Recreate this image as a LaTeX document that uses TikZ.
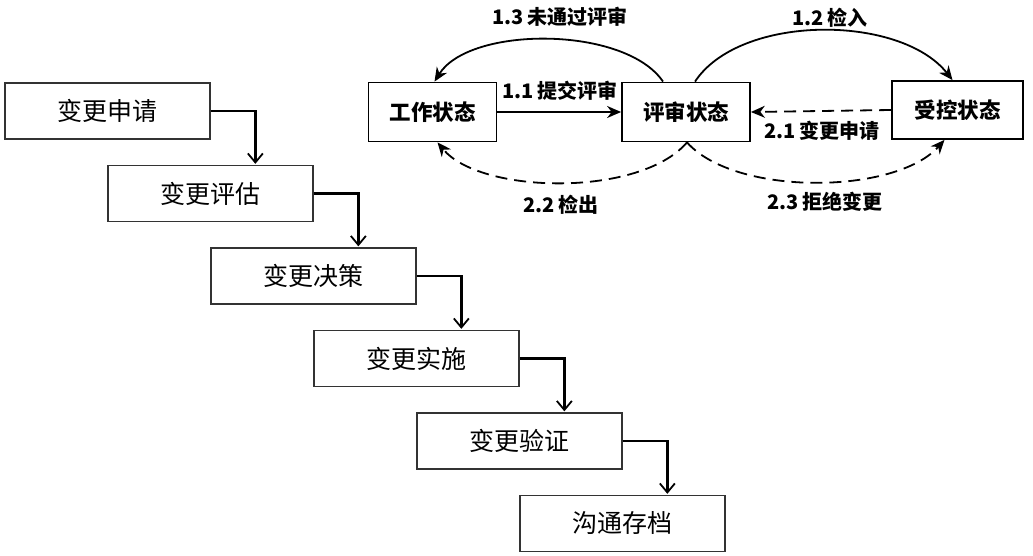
\documentclass[tikz,border=0pt]{standalone}
\usepackage{fontspec}
\setmainfont{Noto Sans CJK SC}
\usetikzlibrary{arrows.meta}
\begin{document}
\begin{tikzpicture}[x=1pt,y=-1pt,
  stairbox/.style={draw=black!80,line width=1.3pt,minimum width=205pt,minimum height=56pt,inner sep=0pt,font=\fontsize{25}{27}\selectfont},
  stairarrow/.style={line width=2.4pt,-{Straight Barb[length=9pt,width=15pt,line width=1.8pt]}},
  statebox/.style={draw=black,line width=1.8pt,minimum width=128pt,minimum height=59pt,inner sep=0pt,font=\fontsize{21.5}{23}\selectfont\bfseries},
  flow/.style={line width=1.8pt,-{Stealth[length=14pt,width=12pt]}},
  flowdash/.style={flow,dash pattern=on 12pt off 7pt},
  lbl/.style={font=\fontsize{20}{22}\selectfont\bfseries,inner sep=0pt}]
\useasboundingbox (0,0) rectangle (1033,556);
% staircase
\node[stairbox] (b1) at (107.5,111) {变更申请};
\node[stairbox] (b2) at (210.5,193.5) {变更评估};
\node[stairbox] (b3) at (313.5,276) {变更决策};
\node[stairbox] (b4) at (416.5,358.5) {变更实施};
\node[stairbox] (b5) at (519.5,441) {变更验证};
\node[stairbox] (b6) at (622.5,523.5) {沟通存档};
\draw[stairarrow] (b1.east) -| ([xshift=148pt,yshift=1pt]b2.north west);
\draw[stairarrow] (b2.east) -| ([xshift=148pt,yshift=1pt]b3.north west);
\draw[stairarrow] (b3.east) -| ([xshift=148pt,yshift=1pt]b4.north west);
\draw[stairarrow] (b4.east) -| ([xshift=148pt,yshift=1pt]b5.north west);
\draw[stairarrow] (b5.east) -| ([xshift=148pt,yshift=1pt]b6.north west);
% state diagram
\node[statebox] (w) at (432.5,112) {工作状态};
\node[statebox] (r) at (686,112) {评审状态};
\node[statebox,minimum width=131pt,minimum height=58pt] (c) at (957.5,110) {受控状态};
\draw[flow] (w.east) -- (r.west);
\node[lbl] (l11) at (560,91) {1.1 提交评审};
\draw[flowdash] (c.west) -- (r.east);
\node[lbl] (l21) at (822,131) {2.1 变更申请};
\draw[flow] ([xshift=-23pt]r.north) .. controls +(-38,-56) and +(35,-56) .. ([xshift=2pt]w.north);
\node[lbl] (l13) at (560,17) {1.3 未通过评审};
\draw[flow] ([xshift=9pt]r.north) .. controls +(45,-68) and +(-52,-66) .. ([xshift=-5pt]c.north);
\node[lbl] (l12) at (830,18) {1.2 检入};
\draw[flowdash] ([xshift=1pt]r.south) .. controls +(-47,55) and +(43,52) .. ([xshift=5pt]w.south);
\node[lbl] (l22) at (561,205) {2.2 检出};
\draw[flowdash] ([xshift=1pt]r.south) .. controls +(48,54) and +(-49,55) .. ([xshift=-13pt]c.south);
\node[lbl] (l23) at (825,202) {2.3 拒绝变更};
\end{tikzpicture}
\end{document}
